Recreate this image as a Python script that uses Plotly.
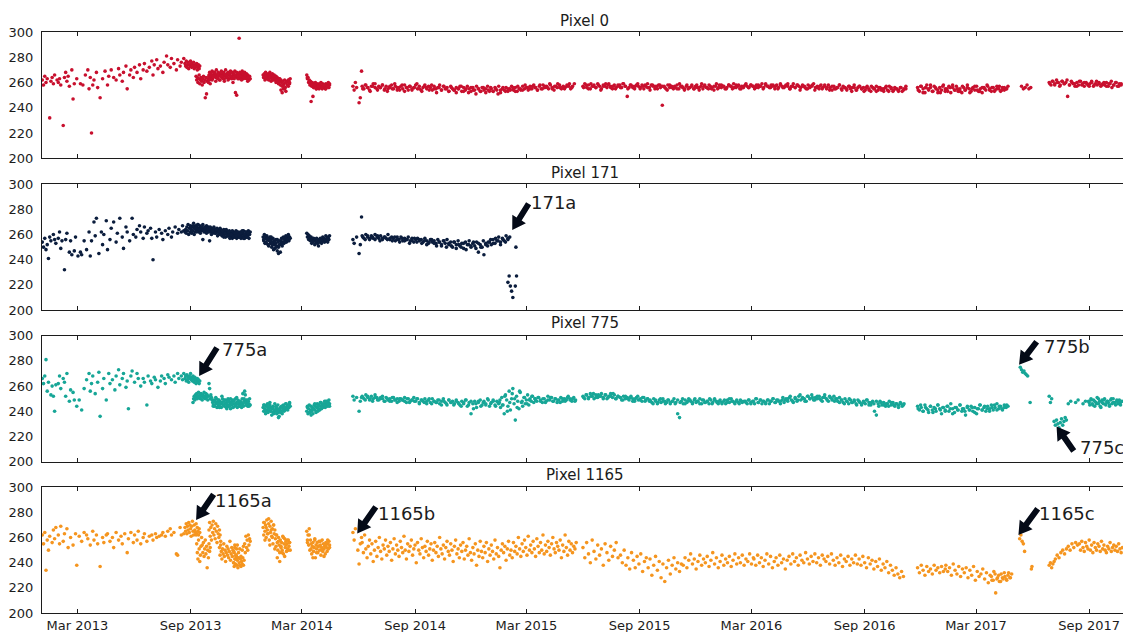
import numpy as np
import pandas as pd
import plotly.graph_objects as go

# ---------------------------------------------------------------------------
# Daily dark-level readings per pixel, stored as runs:
# (first date, spacing in days, values); "-" marks a day without a reading.
# ---------------------------------------------------------------------------
pixel0_runs = [
    ("2013-01-03", 2,
     "262 258 265 260 263 - 232 261 264 259 "
     "266 - 262 260 263 258 - 226 264 268 "
     "261 265 257 - 270 247 259 - 263 - "
     "- 259 - 258 - 266 - 270 255 264 "
     "220 258 262 - 268 256 - 248 - 263 "
     "- 269 - 258 265 - 270 - 264 - "
     "262 - 271 266 - 261 268 - 273 255 "
     "- 266 270 - 264 272 - 268 - 274 "
     "263 - 270 275 - 269 - 272 - 277 "
     "266 274 - 278 271 - 273 - 268 276 "
     "- 281 274 - 272 279 - 275 - 270 "
     "278 - 273 276 - 279"),
    ("2013-08-23", 1,
     "275 273 277 272 274 276 271 274 273 277 275 272 274 273 276 271 274 272 273 275 "
     "270 272 274 271 273"),
    ("2013-09-10", 1,
     "265 262 264 260 263 266 259 262 264 261 258 263 265 260 262 248 264 251 261 263 "
     "260 265 262 259"),
    ("2013-10-01", 1,
     "266 268 264 267 265 269 263 266 268 265 267 264 270 266 263 268 265 267 262 266 "
     "269 264 267 265 268 263 266 270 265 267 264 268 266 263 267 269 265 264 268 266 "
     "267 263 269 265 266 268 264 267 265 263 268 266 264 267 269 265 263 266 268 264 "
     "265 267 263 266 264 262 265 263"),
    ("2013-10-02", 2,
     "263 267 262 265 268 261 264 266 262 265 268 263 261 266 264 262 267 265 263 260 "
     "264 252 250 263 295 265 262 267 264 266 263 261 264"),
    ("2013-12-28", 1,
     "266 264 267 265 268 263 266 264 267 262 265 268 264 266 263 267 265 262 266 264 "
     "263 265 261 264 262 260 263 261 258 262 260 257 261 255 259 262 256 253 260 258 "
     "261 257 262 259 263"),
    ("2013-12-29", 2,
     "264 262 265 263 266 264 261 263 265 262 260 262 259 263 254 252 258 255 260 261 "
     "262 260"),
    ("2014-03-09", 1,
     "266 263 264 260 262 258 261 259 257 260 258 256 259 257 260 255 258 256 259 257 "
     "255 258 256 260 257 255 259 256 258 257 255 259 256 258 257 260 256 258"),
    ("2014-03-10", 3, "264 261 245 249 258 255 257 259 256 258 255 257 259"),
    ("2014-05-23", 2, "257 254 260 256 - 244 248 269"),
    ("2014-06-07", 3,
     "257 255 258 256 254 257 259 256 255 257 256 258 254 257 255 256 258 255 257 254 "
     "256 257 255 258 256 254 257 255 256 258 255 257 254 256 258 255 257 256 254 257 "
     "255 256 258 254 257 255 256 253 257 255 254 256 255 257 253 256 254 257 255 253 "
     "256 254 257 255 253 256 254 255 257 253 255 253 256 254 257 252 255 254 256 253 "
     "255 257 254 256 253 255 254 257 255 256 254 257 255 258 256 254 257 255 258 256 "
     "257 255 258 256 254 257 259 256 255 257 256 258 257 255 257 259"),
    ("2014-06-08", 4,
     "255 258 256 253 257 259 254 256 258 255 253 257 255 259 256 254 258 253 256 257 "
     "254 256 259 255 253 257 256 254 258 255 252 256 254 257 255 253 256 254 252 255 "
     "257 253 255 252 256 254 251 255 253 256 252 254 256 253 255 251 254 256 253 255 "
     "254 256 253 257 255 254 258 256 255 257 256 254 258 255 257 256 259 255 257 256 "
     "258 256 255 257 259 256"),
    ("2015-06-01", 3,
     "257 259 256 258 255 257 258 256 259 257 255 258 257 256 259 257 255 258 256 257 "
     "258 256 259 257 249 256 258 257 255 258 257 256 258 255 257 259 256 258 257 255 "
     "257 258 256 242 257 255 258 256 257 255 256 258 255 257 256 254 257 255 256 258 "
     "255 257 256 254 257 255 258 256 255 257 256 254 257 255 258 256 257 255 256 258 "
     "257 255 256 258 257 255 257 256 258 257 256 258 257 255 258 256 257 259 256 258 "
     "257 256 258 257 255 258 256 259 257 256 258 257 255 257 259 256 258 257 256 258 "
     "257 255 258 256 257 259 256 257 255 258 256 257 255 258 256 254 257 255 256 258 "
     "255 257 256 254 257 255 256 258 254 256 257 255 256 254 257 255 253 256 255 257 "
     "254 256 255 253 256 254 257 255 253 256 255 254 256 253 255 257"),
    ("2015-06-02", 4,
     "256 258 255 259 257 256 258 254 257 259 258 256 257 255 258 256 259 257 255 258 "
     "256 257 259 255 257 258 256 254 258 257 255 258 257 256 254 258 256 257 255 259 "
     "257 255 258 256 257 255 258 256 259 257 256 258 255 257 259 256 258 257 255 258 "
     "257 259 256 258 255 257 259 256 258 257 256 258 257 255 259 257 256 258 257 255 "
     "258 256 257 259 255 257 256 258 254 257 256 255 257 258 254 256 257 255 258 256 "
     "254 257 255 256 258 254 256 255 257 253 256 254 257 255 253 256 254 257 255 253 "
     "256 254 255 257 253 256 254 255 253 256 254 255"),
    ("2016-11-26", 3,
     "256 253 257 255 252 258 254 256 253 257 255 252 256 254 258 253 255 257 252 256 "
     "254 257 253 255 252 256 254 258 255 253 256 254 257 253 255 252 256 254 257 255 "
     "253 256 254 257 255 253 256 254 255 257"),
    ("2016-11-27", 4,
     "254 257 252 256 255 258 253 256 254 252 257 255 253 256 258 254 255 253 257 254 "
     "256 252 255 257 254 253 256 255 258 254 256 253 255 257 254 256 255"),
    ("2017-05-14", 3, "257 255 256 258 255 256"),
    ("2017-06-28", 3,
     "260 258 261 259 262 260 258 261 259 260 249 258 261 259 257 260 258 261 259 257 "
     "260 258 259 261 257 259 258 260 257 259 258 260 257 259 256 258 260 257 259 258"),
    ("2017-06-29", 4,
     "259 261 258 260 257 261 259 262 258 260 259 257 261 258 260 259 257 260 258 261 "
     "259 258 260 257 259 261 258 260 257 259"),
]

pixel171_runs = [
    ("2013-01-03", 2,
     "254 250 257 248 252 241 258 255 - 260 "
     "256 253 - 257 262 249 255 - 232 256 "
     "261 - 246 255 244 - 247 258 - 243 "
     "- 246 244 - 255 - 248 - 262 243 "
     "255 - 270 259 273 - 245 - 262 252 "
     "260 - 271 248 - 256 265 - 270 - "
     "254 261 - 273 - 258 249 - 266 262 "
     "- 255 - 273 260 - 258 264 - 267 "
     "262 - 257 266 - 261 263 - 265 257 "
     "240 - 262 258 - 264 - 261 256 - "
     "263 - 260 265 - 258 262 - 266 - "
     "261 264 - 262 267 263"),
    ("2013-08-23", 1,
     "262 264 261 266 263 268 260 265 262 267 264 261 266 263 269 265 262 267 264 266 "
     "263 268 265 262 267 264 266 263 265 268 264 262 266 263 265 267 262 264 266 263 "
     "255 264 262 265 263 261 264 266 262 264 261 263 265 262 264 260 263 261 264 262 "
     "259 263 261 264 260 262 258 263 261 259 262 260 263 258 261 259 262 257 260 262 "
     "258 261 259 263 257 260 262 258 261 259 262 257 260 258 261 263 259 257 260 262 "
     "258 261 259 263 257 260 262"),
    ("2013-09-01", 2,
     "266 263 267 260 265 262 268 264 261 266 256 263 265 261 264 262 266 260 263 265 "
     "261 264 259 262 265 260 263 258 261 264 259 262 257 260 263 258 261 259 262 260 "
     "258 261 263 257 260 262 258 261"),
    ("2013-12-28", 1,
     "258 255 260 253 257 254 259 256 252 257 255 258 253 256 250 254 257 252 255 249 "
     "253 256 251 247 254 250 255 252 246 253 257 251 254 258 253 256 255 259 254 257 "
     "256 260 255 258 257"),
    ("2013-12-29", 2,
     "256 259 253 257 251 255 258 252 248 254 250 256 245 252 255 253 257 254 258 256 "
     "259 257"),
    ("2014-03-09", 1,
     "261 258 260 256 259 257 255 258 253 256 254 257 255 252 256 254 257 253 255 251 "
     "256 254 257 255 253 256 258 255 257 254 256 259 255 257 254 258 256 259"),
    ("2014-05-23", 2, "256 253 - 258 - 245 252 274"),
    ("2014-06-07", 3,
     "259 257 260 258 256 259 257 260 258 257 259 256 258 257 260 256 258 257 255 258 "
     "256 258 255 257 256 258 255 257 254 256 257 255 256 254 257 255 253 256 254 255 "
     "253 256 254 251 255 253 256 252 254 250 254 252 255 251 253 249 254 252 255 250 "
     "253 251 254 246 252 250 244 253 251 254 252 256 253 255 258 254 257 255 259 256 "
     "258"),
    ("2014-06-08", 4,
     "258 256 259 257 258 256 259 255 257 258 256 257 255 258 256 254 257 255 256 253 "
     "255 257 254 256 253 255 252 254 256 253 251 254 252 255 250 253 251 254 249 252 "
     "250 253 248 252 251 254 249 253 250 255 252 254 256 253 257 255 252 256 254 257"),
    ("2015-01-30", 2, "222 227 219 215 210 - 219 227"),
    ("2015-02-12", 1, "250"),
]

pixel775_runs = [
    ("2013-01-03", 2,
     "266 262 268 281 256 263 - 253 260 252 "
     "240 261 - 262 268 258 - 266 263 252 "
     "270 - 248 257 - 255 249 - 244 - "
     "249 - 241 - 258 - 265 - 270 256 "
     "262 268 - 254 - 263 271 236 - 258 "
     "266 - 249 - 270 262 - 265 - 257 "
     "268 - 273 261 - 266 270 - 259 264 "
     "242 - 268 272 - 263 - 270 266 - "
     "260 - 266 263 - 245 268 - 264 262 "
     "- 267 265 - 259 - 264 268 - 266 "
     "262 - 269 267 - 265 - 268 263 - "
     "270 266 - 268 265 270"),
    ("2013-08-23", 1,
     "266 268 264 269 265 267 263 268 266 270 265 267 264 268 266 263 267 265 262 264 "
     "266 263 265 262 264"),
    ("2013-09-05", 1,
     "247 250 252 249 253 251 254 250 252 255 251 253 250 254 252 249 253 251 255 252 "
     "250 254 251 253 249 252 262 258 250 253 251 249"),
    ("2013-10-07", 1,
     "247 245 249 244 248 246 250 243 247 245 249 244 248 246 243 247 250 245 248 244 "
     "246 249 243 247 245 250 244 248 246 242 247 245 249 243 248 246 244 250 245 247 "
     "243 249 246 244 248 245 247 243 250 246 244 248 256 253 245 249 247 244 248 246 "
     "250 245"),
    ("2013-10-08", 2,
     "244 248 251 246 249 243 247 252 245 249 246 242 248 244 250 246 243 249 245 251 "
     "247 244 248 246 254 250 247 245 249 244"),
    ("2013-12-28", 1,
     "243 240 245 242 238 244 241 246 239 243 241 245 240 243 237 242 244 239 241 246 "
     "240 243 238 242 245 239 236 241 243 240 244 238 242 245 240 243 241 246 242 244 "
     "241 245 243 246 244"),
    ("2013-12-29", 2,
     "245 241 239 244 242 247 240 243 238 241 244 240 235 242 239 244 241 243 246 242 "
     "244 247"),
    ("2014-03-09", 1,
     "240 243 238 242 245 239 241 244 240 243 238 242 245 241 244 239 243 246 240 242 "
     "245 241 244 247 242 245 243 246 244 248 243 246 245 248 244 247 249 246"),
    ("2014-03-10", 3, "244 239 237 242 246 240 244 247 243 245 248 246 244"),
    ("2014-05-23", 2, "252 249 - 251 - 240 248 251"),
    ("2014-06-07", 3,
     "252 250 253 251 249 252 250 253 251 249 251 250 248 251 249 250 248 251 249 250 "
     "248 250 249 251 247 250 248 249 251 248 250 247 249 248 250 246 249 247 250 248 "
     "247 249 246 248 250 247 245 249 247 248 246 249 247 245 248 246 249 244 247 238 "
     "246 248 243 247 249 245 248 246 250 244 247 249 245 248 246"),
    ("2014-06-08", 4,
     "251 249 252 250 248 251 249 250 252 248 250 248 251 249 247 250 249 248 250 247 "
     "249 248 250 246 249 247 248 250 246 248 247 249 245 248 246 249 247 245 248 246 "
     "244 247 249 245 248 242 246 248 244 247 245 249 246 248 244 247"),
    ("2015-01-16", 2,
     "247 243 251 245 238 253 249 244 256 241 250 258 246 233 252 248 242 255 247 244 "
     "251 246 249 253 245 250 248 252 247 250"),
    ("2015-01-17", 4, "249 245 252 240 247 254 250 243 256 248 251 246 249 252"),
    ("2015-03-15", 3,
     "250 248 251 249 247 250 248 252 249 251 248 250 247 249 251 248 250 249 252 250 "
     "248 251 249"),
    ("2015-03-16", 4, "249 251 248 250 247 249 251 248 250 249 247 250 248 251 249 250 248"),
    ("2015-06-01", 3,
     "252 250 253 251 254 252 250 253 251 252 254 251 253 250 252 254 251 253 250 252 "
     "251 249 252 250 251 249 252 250 248 251 249 250 248 251 249 250 248"),
    ("2015-06-02", 4,
     "251 253 250 252 254 251 253 252 250 253 251 252 254 250 252 251 249 252 250 251 "
     "248 250 252 249 251 248 250"),
    ("2015-09-18", 3,
     "249 247 250 248 246 249 247 250 248 247 249 246 248 250 247 238 235 248 246 249 "
     "247 250 248 246 249 247 248 250 246 249 247 248 246 249 247 250 248 246 249 247 "
     "248 246 249 247 250 248 246 248 247 249 247 248"),
    ("2015-09-19", 4,
     "248 246 249 247 250 248 246 249 247 248 246 249 247 250 246 248 249 247 250 248 "
     "246 249 247 248 250 246 249 247 248 246 249 247 250 248 247 249 246 248"),
    ("2016-02-20", 3,
     "248 246 249 247 248 246 250 247 249 246 248 247 249 246 248 250 247 249 248 246 "
     "249 247 250 248 251 249 247 250 248 252 249 251 250 248 252 250 253 249 251 250 "
     "252 249 251 253 250 248 251 249 252 250 248 251 249 247 250 248 246 249 247 248 "
     "246 249 247 245 248 246 249 247 245 248 240 237 246 248 245 247 244 246 248 245 "
     "247 244 246 245 247 244 246"),
    ("2016-02-21", 4,
     "247 249 246 248 250 247 249 248 246 249 248 250 247 249 248 251 249 250 252 248 "
     "251 249 253 250 248 252 250 251 249 252 250 248 251 249 252 250 248 250 247 249 "
     "246 248 250 247 249 245 248 246 247 249 245 247 246 248 244 247 245 246 244 247 "
     "245 246 243 246 245"),
    ("2016-11-26", 3,
     "244 241 243 240 245 242 239 244 241 243 240 245 242 238 243 241 244 240 246 242 "
     "239 243 241 245 240 242 237 243 241 244 240 243 238 242 245 241 243 240 244 242 "
     "245 241 243 246 242 244 241 245 243 244"),
    ("2016-11-27", 4,
     "242 245 240 243 241 244 239 242 245 241 243 240 244 242 238 243 241 245 242 240 "
     "244 241 243 239 242 245 241 244 242 240 243 245 241 244 242 243 245"),
    ("2017-05-12", 2, "275 273 271 272 270 269 268"),
    ("2017-05-28", 1, "247"),
    ("2017-06-28", 2, "252 247 250"),
    ("2017-07-06", 2, "232 229 233 230 227 231 234 229 232 235 233"),
    ("2017-07-29", 4, "246 248 - 247 249 - 246 248"),
    ("2017-08-31", 2,
     "248 245 250 246 249 244 247 251 246 248 243 249 246 250 245 248 247 244 249 246 "
     "250 247 245 248 246 249 247 248"),
    ("2017-09-01", 3, "247 249 245 248 246 250 244 247 249 246 248 245 250 247 246 249 247 245"),
]

pixel1165_runs = [
    ("2013-01-03", 2,
     "262 255 264 234 258 250 261 - 256 266 "
     "259 268 - 262 255 269 - 257 263 - "
     "267 252 - 260 - 254 - 263 238 - "
     "261 - 257 - 264 - 262 259 - 254 "
     "- 265 258 - 262 255 - 237 - 260 "
     "256 - 262 263 - 257 - 260 252 - "
     "264 - 258 - 261 255 - 263 - 248 "
     "259 - 264 - 256 262 - 258 265 - "
     "255 - 260 263 - 257 - 261 - 262 "
     "258 - 263 260 - 261 - 262 264 - "
     "261 - 265 - 267 262 - 264 - 247 "
     "246 - 268 262 - 263"),
    ("2013-08-23", 1,
     "268 265 271 263 269 266 272 264 270 267 261 269 273 265 262 270 266 264 271 263 "
     "268 265 262 267 264"),
    ("2013-09-10", 1, "262 255 248 243 258 251 241 246 253 260"),
    ("2013-09-20", 1, "254 248 256 245 251 258 247 253 236 250 244 255 249 252"),
    ("2013-10-01", 1,
     "266 272 261 268 258 270 264 273 262 267 259 271 265 256 269 263 260 266 262 257"),
    ("2013-10-18", 1,
     "252 246 254 249 243 251 247 255 245 250 241 248 253 246 251 244 249 257 242 247 "
     "252 245 250 240 248 254 243 246 251 244"),
    ("2013-11-10", 1,
     "240 237 243 239 245 238 242 236 244 240 238 243 237 241 239 244 238 242"),
    ("2013-11-10", 2, "249 252 246 254 248 251 245 250 253"),
    ("2013-11-28", 1, "255 248 261 252 258 250 262 254 259 257"),
    ("2013-12-28", 1,
     "268 262 272 265 270 260 274 266 263 271 258 269 264 273 261 267 255 270 263 266 "
     "259 253 262 256 250 260 254 248 258 252 256 250 261 247 255 259 252 257 249 255 "
     "251 258 253 256 250"),
    ("2013-12-29", 2,
     "272 258 268 263 275 254 266 260 270 251 262 244 257 241 253 248 260 245 254 258 "
     "250 256"),
    ("2014-03-09", 1,
     "265 258 262 254 267 250 258 255 247 253 256 249 252 258 244 254 251 256 248 253 "
     "257 250 254 246 252 258 249 255 251 253 247 256 252 249 255 251 257 254"),
    ("2014-03-10", 3, "256 262 251 244 259 248 253 257 250 245 254 258 252"),
    ("2014-05-23", 2, "264 258 267 - 250 239 255 260"),
    ("2014-06-07", 2,
     "256 248 262 251 244 253 258 247 255 241 250 257 245 252 260 249 243 254 251 258 "
     "246 253 249 256 242 251 259 247 254 250 245 257 252 248 261 250 243 255 249 253 "
     "258 246 251 254 240 256 250 247 259 252 244 253 249 257 246 251 255 242 250 256 "
     "248 253 245 260 251 247 254 243 252 257 249 246 255 250 241 253 258 247 251 244 "
     "254 249 256 243 250 253 246 259 248 242 252 247 255 238 250 245 257 249 244 253 "
     "248 256 241 251 246 254 249 243 258 247 252 245 236 250 255 248 253 242 251 257 "
     "246 250 244 256 249 253 247 260 251 245 255 249 258 252 246 261 250 254 248 257 "
     "251 245 259 253 248 256 250 262 247 254 249 257 252 246 255 260 251 248 256 253 "
     "250 258 244 254 249 262 252 246 257 250 255 248 253 251 256"),
    ("2015-06-01", 3,
     "252 244 256 247 240 258 249 243 254 246 251 238 255 248 242 253 245 250 256 244"),
    ("2015-08-01", 3,
     "246 240 250 238 244 235 248 242 236 245 239 247 233 241 244 236 243 230 238 245 "
     "234 241 228 239 225 236 242 231 238 244 235 240 233 239"),
    ("2015-11-11", 3,
     "238 244 236 242 247 239 243 235 241 246 238 243 240 245 237 242 248 239 244 236 "
     "241 246 238 243 240 245 237 242 247 239 244 240 246 238 243 241 247 239 244"),
    ("2016-03-05", 3,
     "243 238 246 240 244 237 242 247 239 245 236 241 244 238 246 240 243 235 242 245 "
     "239 247 241 244 238 246 242 240 248 243 239 245 241 247 240 244 238 246 243 241 "
     "245 239 247 242 238 244 240 246 237 243 241 245 238 243 240 246 239"),
    ("2016-08-23", 3,
     "243 238 245 240 236 244 239 242 235 241 237 243 234 239 236 241 232 238 234 230 "
     "236 231 228 233 229"),
    ("2016-11-26", 3,
     "236 232 238 234 230 237 233 235 231 238 234 236 232 237 233 235"),
    ("2017-01-11", 3,
     "238 233 236 230 239 234 231 237 229 235 232 236 228 234 230 237 226 233 229 231 "
     "235 227 232 224 230 226 233 216 228 225 231 227 229 226 232 228"),
    ("2017-03-26", 3, "229 226 231 227 230 225 228 232 227 230 228 231"),
    ("2017-05-11", 2, "259 262 257 255 249"),
    ("2017-05-30", 1, "235 237"),
    ("2017-06-28", 2, "238 240 236 239 241"),
    ("2017-07-08", 3, "243 246 244 248 250 247 251 253 250 255 252 256 254"),
    ("2017-08-16", 2,
     "255 250 257 252 249 256 253 251 258 250 254 248 256 252 250 255 253 249 257 251 "
     "254 250 248 253 251 256 249 252 254 250 253 249 255 251 248 252"),
]

panel_titles = ["Pixel 0", "Pixel 171", "Pixel 775", "Pixel 1165"]
panel_colors = ["#c8102e", "#0b1d3d", "#17a697", "#f5951f"]
panel_runs = [pixel0_runs, pixel171_runs, pixel775_runs, pixel1165_runs]

# Event callouts: panel index, label, date and level of the event
event_panel = [1, 2, 2, 2, 3, 3, 3]
event_label = ["171a", "775a", "775b", "775c", "1165a", "1165b", "1165c"]
event_date = ["2015-02-06", "2013-09-15", "2017-05-10", "2017-07-10",
              "2013-09-10", "2014-05-30", "2017-05-09"]
event_level = [263.6, 268.0, 277.0, 228.0, 274.0, 263.3, 262.0]

# Callout styling: arrow tail offset from the tip and label offset (px, y up)
arrow_tail = [(15.6, 25.0), (17.0, 27.0), (16.7, 21.7), (16.3, -23.3),
              (16.7, 24.3), (17.7, 25.3), (18.4, 25.0)]
label_shift = [(16.6, 27.5), (20.7, 26.7), (22.7, 18.0), (21.3, -21.3),
               (16.7, 19.5), (18.7, 19.8), (19.0, 21.5)]

x_range = ["2013-01-02 12:00", "2017-10-26"]
y_range = [200, 300]


def expand(runs):
    dates, values = [], []
    for start, step, text in runs:
        t0 = pd.Timestamp(start)
        for i, tok in enumerate(text.split()):
            if tok == "-":
                continue
            dates.append(t0 + pd.Timedelta(days=step * i))
            values.append(float(tok))
    return dates, values


def arrow_path(tx, ty, head_len=13.0, head_half=8.0, shaft_half=3.0):
    """Filled arrow polygon in pixels, tip at the origin, tail at (tx, ty)."""
    v = np.array([tx, ty], dtype=float)
    length = np.hypot(*v) + 1.5
    u = v / np.hypot(*v)
    n = np.array([-u[1], u[0]])
    pts = [np.zeros(2),
           u * head_len + n * head_half,
           u * head_len + n * shaft_half,
           u * length + n * shaft_half,
           u * length - n * shaft_half,
           u * head_len - n * shaft_half,
           u * head_len - n * head_half]
    return "M " + " L ".join(f"{p[0]:.2f},{p[1]:.2f}" for p in pts) + " Z"


FONT = "DejaVu Sans"
INK = "#1c1c1c"
domains = [(0.7826, 1.0), (0.5215, 0.7379), (0.2604, 0.4773), (0.0, 0.2164)]
title_y = [1.0194, 0.7578, 0.4986, 0.2375]

fig = go.Figure()
layout_axes = {}
for k in range(4):
    xs = "" if k == 0 else str(k + 1)
    dates, values = expand(panel_runs[k])
    fig.add_trace(go.Scatter(
        x=dates, y=values, mode="markers",
        marker=dict(size=3.6, color=panel_colors[k], line=dict(width=0)),
        xaxis="x" + xs, yaxis="y" + xs, showlegend=False, hoverinfo="skip",
    ))
    xa = dict(
        domain=[0, 1], anchor="y" + xs, type="date", range=x_range,
        tick0="2013-03-01", dtick="M6", tickformat="%b %Y",
        ticks="inside", ticklen=4, tickwidth=1, tickcolor=INK,
        showline=True, linecolor=INK, linewidth=1, mirror="ticks",
        showgrid=False, zeroline=False, showticklabels=(k == 3),
        tickfont=dict(family=FONT, size=13, color=INK),
        ticklabelstandoff=0, automargin=False,
    )
    if k > 0:
        xa["matches"] = "x"
    ya = dict(
        domain=list(domains[k]), anchor="x" + xs, range=y_range,
        tick0=200, dtick=20, ticks="", showline=True, linecolor=INK, linewidth=1,
        showgrid=False, zeroline=False,
        tickfont=dict(family=FONT, size=13, color=INK),
        ticklabelstandoff=5, automargin=False,
    )
    layout_axes["xaxis" + xs] = xa
    layout_axes["yaxis" + xs] = ya

annotations = []
shapes = []
for k, t in enumerate(panel_titles):
    annotations.append(dict(
        text=t, xref="paper", yref="paper", x=0.502, y=title_y[k],
        xanchor="center", yanchor="middle", showarrow=False,
        font=dict(family=FONT, size=15, color=INK),
    ))

for p, label, d, v, tail, shift in zip(event_panel, event_label, event_date,
                                       event_level, arrow_tail, label_shift):
    xs = "" if p == 0 else str(p + 1)
    shapes.append(dict(
        type="path", xref="x" + xs, yref="y" + xs,
        xsizemode="pixel", ysizemode="pixel", xanchor=d, yanchor=v,
        path=arrow_path(*tail), fillcolor="#040a17", line=dict(width=0),
        layer="above",
    ))
    annotations.append(dict(
        text=label, x=d, y=v, xref="x" + xs, yref="y" + xs,
        xanchor="left", yanchor="middle", showarrow=False,
        xshift=shift[0], yshift=shift[1],
        font=dict(family=FONT, size=18, color=INK),
    ))

fig.update_layout(
    width=1123, height=632,
    margin=dict(l=42, r=0, t=32, b=19),
    paper_bgcolor="white", plot_bgcolor="white",
    annotations=annotations, shapes=shapes,
    **layout_axes,
)

fig.write_html("out.html")
